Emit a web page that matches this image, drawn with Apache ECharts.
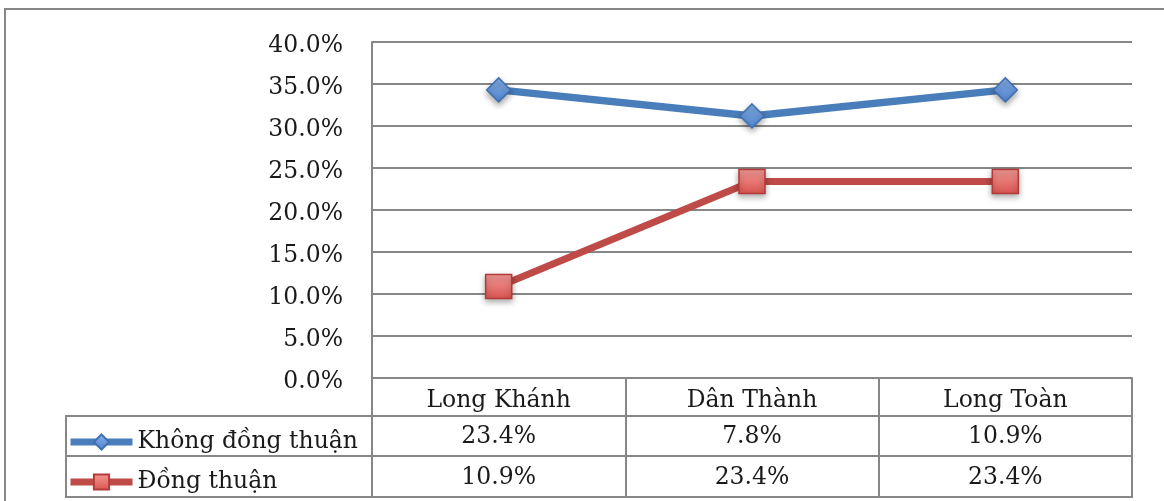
<!DOCTYPE html>
<html lang="vi">
<head>
<meta charset="UTF-8">
<title>Đồng thuận / Không đồng thuận</title>
<script src="https://cdn.jsdelivr.net/npm/echarts@6/dist/echarts.min.js"></script>
<style>
    body { margin: 0; background: #fff; }
    #main { width: 1164px; height: 501px; }
</style>
</head>
<body>
<div id="main"></div>
<script>
    // du lieu
    var categories = ['Long Khánh', 'Dân Thành', 'Long Toàn'];
    var seriesNames = ['Không đồng thuận', 'Đồng thuận'];
    var khongDongThuan = [23.4, 7.8, 10.9];
    var dongThuan = [10.9, 23.4, 23.4];
    var yMin = 0, yMax = 40, yStep = 5;

    var font = '"DejaVu Serif"';
    var fontSize = 23.5;
    var textColor = '#1a1a1a';
    var gridColor = '#878787';
    var blue = '#4A7EBB', red = '#BE4B48';

    var gridLeft = 372, gridRight = 1132, axisY = 378;
    var rowLines = [416, 456, 497];
    var tableLeft = 66;

    function fmt(v) { return v.toFixed(1) + '%'; }

    var myChart = echarts.init(document.getElementById('main'));

    var option = {
        animation: false,
        grid: {
            left: gridLeft, right: 1164 - gridRight, top: 42, bottom: 501 - axisY,
            outerBoundsMode: 'none'
        },
        legend: {
            orient: 'vertical',
            left: 62, top: 425,
            itemWidth: 62, itemHeight: 19, itemGap: 16,
            data: seriesNames,
            textStyle: { fontFamily: font, fontSize: fontSize, color: textColor, lineHeight: 24 },
            lineStyle: { width: 7, shadowBlur: 0 }
        },
        xAxis: {
            type: 'category',
            data: categories,
            axisLine: { lineStyle: { color: gridColor, width: 2 } },
            axisTick: { show: true, length: rowLines[2] - axisY, lineStyle: { color: gridColor, width: 2 } },
            axisLabel: { margin: 11, fontFamily: font, fontSize: fontSize, color: textColor }
        },
        yAxis: {
            type: 'value',
            min: yMin, max: yMax, interval: yStep,
            axisLine: { show: true, lineStyle: { color: gridColor, width: 2 } },
            axisTick: { show: false },
            splitLine: { lineStyle: { color: gridColor, width: 2 } },
            axisLabel: {
                margin: 29, verticalAlign: 'top', lineHeight: 8,
                fontFamily: font, fontSize: fontSize, color: textColor, formatter: fmt
            }
        },
        series: [{
            name: 'Đồng thuận',
            type: 'line',
            stack: 'tong',
            data: dongThuan,
            symbol: 'rect',
            symbolSize: [26, 24],
            lineStyle: { color: red, width: 7 },
            itemStyle: {
                color: new echarts.graphic.LinearGradient(0, 0, 0, 1, [
                    { offset: 0, color: '#F29A96' },
                    { offset: 1, color: '#D9534F' }
                ]),
                borderColor: '#B43B38', borderWidth: 1.5,
                shadowBlur: 6, shadowColor: 'rgba(0,0,0,0.35)', shadowOffsetY: 3
            },
            z: 2
        }, {
            name: 'Không đồng thuận',
            type: 'line',
            stack: 'tong',
            data: khongDongThuan,
            symbol: 'diamond',
            symbolSize: [24, 24],
            lineStyle: { color: blue, width: 7.5 },
            itemStyle: {
                color: new echarts.graphic.LinearGradient(0, 0, 0, 1, [
                    { offset: 0, color: '#86AEE6' },
                    { offset: 1, color: '#4F85CF' }
                ]),
                borderColor: '#3F70B0', borderWidth: 1.5,
                shadowBlur: 6, shadowColor: 'rgba(0,0,0,0.35)', shadowOffsetY: 3
            },
            z: 3
        }]
    };
    myChart.setOption(option);

    // bang du lieu ben duoi
    var rows = [khongDongThuan, dongThuan];
    var elements = [{
        type: 'rect',
        shape: { x: 5, y: 9, width: 1400, height: 800 },
        style: { fill: 'none', stroke: gridColor, lineWidth: 2 },
        silent: true
    }, {
        type: 'line',
        shape: { x1: tableLeft, y1: rowLines[0], x2: tableLeft, y2: rowLines[2] },
        style: { stroke: gridColor, lineWidth: 2 }
    }];
    rowLines.forEach(function (y) {
        elements.push({
            type: 'line',
            shape: { x1: tableLeft - 1, y1: y, x2: gridRight + 1, y2: y },
            style: { stroke: gridColor, lineWidth: 2 }
        });
    });
    rows.forEach(function (vals, r) {
        var cy = (rowLines[r] + rowLines[r + 1]) / 2 + 1;
        vals.forEach(function (v, i) {
            var cx = myChart.convertToPixel({ xAxisIndex: 0 }, i);
            elements.push({
                type: 'text',
                style: {
                    text: fmt(v), x: cx, y: cy,
                    align: 'center', verticalAlign: 'middle',
                    font: fontSize + 'px ' + font, fill: textColor
                }
            });
        });
    });
    myChart.setOption({ graphic: { elements: elements } });
</script>
</body>
</html>
